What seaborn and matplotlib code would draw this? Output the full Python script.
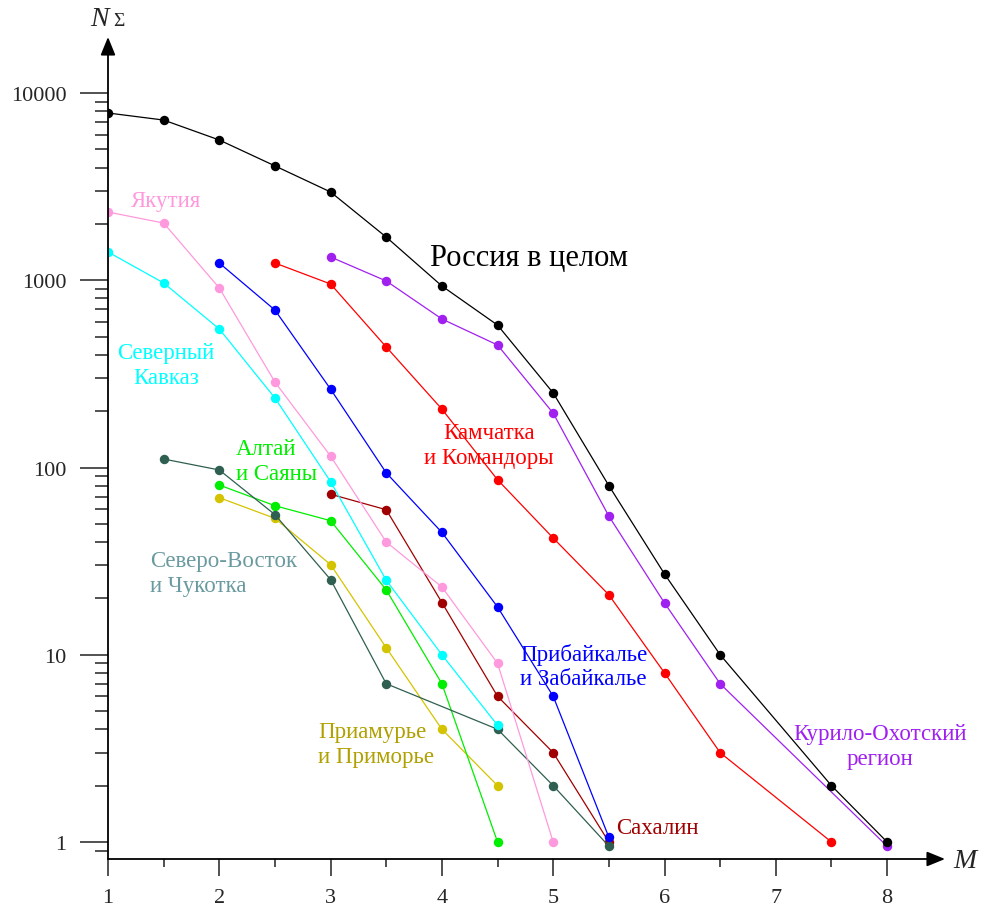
import numpy as np
import pandas as pd
import matplotlib
matplotlib.use("Agg")
import matplotlib.pyplot as plt
import seaborn as sns

# ---- data ----
russia_m = [1, 1.5, 2, 2.5, 3, 3.5, 4, 4.5, 5, 5.5, 6, 6.5, 7.5, 8]
russia_n = [7820, 7170, 5610, 4080, 2960, 1700, 932, 576, 250, 80, 27, 10, 2, 1]

kuril_m = [3, 3.5, 4, 4.5, 5, 5.5, 6, 6.5, 8]
kuril_n = [1331, 991, 621, 451, 195, 55, 18.9, 7, 0.95]

kamch_m = [2.5, 3, 3.5, 4, 4.5, 5, 5.5, 6, 6.5, 7.5]
kamch_n = [1236, 955, 440, 205, 86, 42, 20.9, 8, 3, 1]

baikal_m = [2, 2.5, 3, 3.5, 4, 4.5, 5, 5.5]
baikal_n = [1236, 693, 262, 93.6, 45, 18, 6, 1.06]

yakut_m = [1, 1.5, 2, 2.5, 3, 3.5, 4, 4.5, 5]
yakut_n = [2313, 2021, 909, 286, 115, 40, 23, 9, 1]

kavkaz_m = [1, 1.5, 2, 2.5, 3, 3.5, 4, 4.5]
kavkaz_n = [1416, 967, 549, 235, 84, 25, 10, 4.2]

ne_m = [1.5, 2, 2.5, 3, 3.5, 4.5, 5, 5.5]
ne_n = [111, 97, 56, 25.2, 7, 4, 2, 0.95]

sakh_m = [3, 3.5, 4, 4.5, 5, 5.5]
sakh_n = [72, 59.5, 19, 6, 3, 1]

altai_m = [2, 2.5, 3, 3.5, 4, 4.5]
altai_n = [80.6, 62.5, 52, 22.2, 7, 1]

amur_m = [2, 2.5, 3, 3.5, 4, 4.5]
amur_n = [69, 53.5, 30.3, 10.9, 4, 2]

regions = ["Россия в целом", "Курило-Охотский регион", "Камчатка и Командоры",
           "Прибайкалье и Забайкалье", "Якутия", "Северный Кавказ",
           "Северо-Восток и Чукотка", "Сахалин", "Алтай и Саяны",
           "Приамурье и Приморье"]
series_m = [russia_m, kuril_m, kamch_m, baikal_m, yakut_m, kavkaz_m, ne_m, sakh_m, altai_m, amur_m]
series_n = [russia_n, kuril_n, kamch_n, baikal_n, yakut_n, kavkaz_n, ne_n, sakh_n, altai_n, amur_n]

x_ticks = [1, 2, 3, 4, 5, 6, 7, 8]
y_ticks = [1, 10, 100, 1000, 10000]
y_tick_labels = ["1", "10", "100", "1000", "10000"]

palette = {
    "Россия в целом": "#000000",
    "Курило-Охотский регион": "#a020f0",
    "Камчатка и Командоры": "#ff0000",
    "Прибайкалье и Забайкалье": "#0000ff",
    "Якутия": "#ff99dd",
    "Северный Кавказ": "#00ffff",
    "Северо-Восток и Чукотка": "#2f5f50",
    "Сахалин": "#a00000",
    "Алтай и Саяны": "#00ee00",
    "Приамурье и Приморье": "#d4c400",
}

rows = []
for r, ms, ns in zip(regions, series_m, series_n):
    for m, n in zip(ms, ns):
        rows.append({"region": r, "M": m, "N": n})
df = pd.DataFrame(rows)

sns.set_style("white")
plt.rcParams["font.family"] = ["Liberation Serif", "DejaVu Serif"]
plt.rcParams["mathtext.fontset"] = "custom"
plt.rcParams["mathtext.it"] = "Liberation Serif:italic"
plt.rcParams["mathtext.rm"] = "Liberation Serif"

fig = plt.figure(figsize=(9.82, 9.12), dpi=100)
W, H = 982, 912
x0, x1 = 108, 945
ytop, ybot = 38, 860
ax = fig.add_axes([x0 / W, (H - ybot) / H, (x1 - x0) / W, (ybot - ytop) / H])

order = regions[::-1]
for r in order:
    sub = df[df.region == r]
    sns.lineplot(data=sub, x="M", y="N", color=palette[r], marker="o",
                 markersize=6.8, markeredgewidth=0, linewidth=0.9,
                 estimator=None, sort=False, ax=ax, legend=False)

ax.set_yscale("log")
xmin = 1.0
xmax = 1 + (x1 - x0) / 111.3
ax.set_xlim(xmin, xmax)
ymin = 10 ** ((843 - ybot) / 187.25)
ymax = 10 ** ((843 - ytop) / 187.25)
ax.set_ylim(ymin, ymax)

for s in ["top", "right", "left", "bottom"]:
    ax.spines[s].set_visible(False)

ax.annotate("", xy=(1.0, 0), xytext=(0, 0), xycoords="axes fraction",
            arrowprops=dict(arrowstyle="-|>,head_length=1.1,head_width=0.45",
                            color="black", lw=1.3, shrinkA=0, shrinkB=0))
ax.annotate("", xy=(0, 1.0), xytext=(0, 0), xycoords="axes fraction",
            arrowprops=dict(arrowstyle="-|>,head_length=1.1,head_width=0.45",
                            color="black", lw=1.3, shrinkA=0, shrinkB=0))

ax.set_xticks(x_ticks)
ax.set_xticklabels([str(v) for v in x_ticks])
ax.set_xticks([1.5, 2.5, 3.5, 4.5, 5.5, 6.5, 7.5], minor=True)
ax.set_yticks(y_ticks)
ax.set_yticklabels(y_tick_labels)
minor_y = [k * 10 ** e for e in range(-1, 4) for k in range(2, 10)]
minor_y = [v for v in minor_y if ymin <= v <= ymax]
ax.set_yticks(minor_y, minor=True)
ax.yaxis.set_minor_formatter(matplotlib.ticker.NullFormatter())

ax.tick_params(axis="x", which="major", direction="out", length=12, width=1.2,
               color="#333333", labelsize=16, pad=9, bottom=True)
ax.tick_params(axis="x", which="minor", direction="out", length=6, width=1.2,
               color="#333333", bottom=True)
ax.tick_params(axis="y", which="major", direction="out", length=20, width=1.2,
               color="#333333", labelsize=16, pad=10, left=True)
ax.tick_params(axis="y", which="minor", direction="out", length=9.5, width=1.2,
               color="#333333", left=True)
ax.set_xlabel("")
ax.set_ylabel("")

fig.text(90 / W, 1 - 20 / H, r"$N$", fontsize=20, ha="left", va="center")
fig.text(113 / W, 1 - 22 / H, "Σ", fontsize=14, ha="left", va="center")
fig.text(966 / W, 1 - 862 / H, r"$M$", fontsize=20, ha="center", va="center")

def lab(px, py, s, c, size=16.5, ha="left", ls=1.2):
    fig.text(px / W, 1 - py / H, s, color=c, fontsize=size, ha=ha, va="center",
             linespacing=ls)

lab(430, 259, "Россия в целом", "#000000", size=22)
lab(131, 201, "Якутия", "#ff99dd")
lab(166, 366, "Северный\nКавказ", "#00ffff", ha="center")
lab(236, 462, "Алтай\nи Саяны", "#00ee00")
lab(150, 574, "Северо-Восток\nи Чукотка", "#6a9aa0")
lab(489, 446, "Камчатка\nи Командоры", "#ff0000", ha="center")
lab(520, 667, "Прибайкалье\nи Забайкалье", "#0000ff")
lab(318, 745, "Приамурье\nи Приморье", "#b0a000")
lab(616, 829, "Сахалин", "#a00000")
lab(880, 747, "Курило-Охотский\nрегион", "#a020f0", ha="center")

fig.savefig("out.png", dpi=100, facecolor="white")
